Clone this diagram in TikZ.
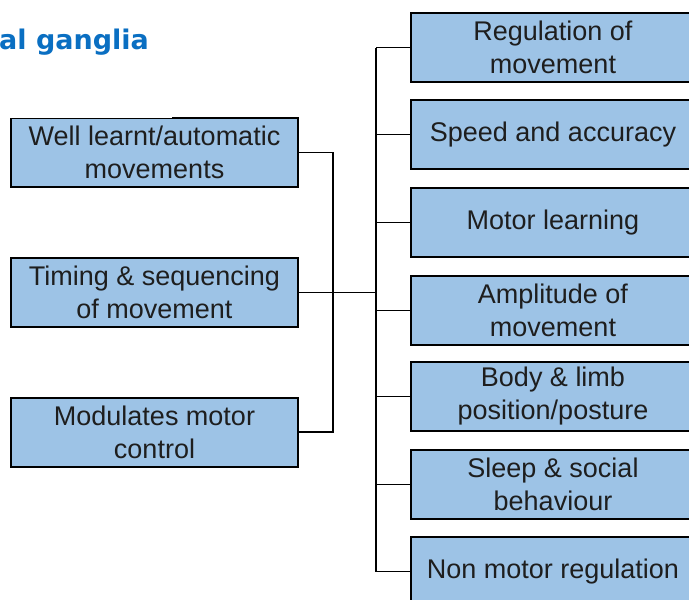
\documentclass[tikz,border=0pt]{standalone}
\usepackage{fontspec}
\setmainfont{Liberation Sans}
\newfontfamily\titlefont{DejaVu Sans}
\begin{document}
\begin{tikzpicture}[x=1pt,y=-1pt,
  box/.style={draw=black, line width=2pt, fill=boxblue, rectangle,
    inner sep=0pt, align=center, text=textgray,
    font=\fontsize{27}{33}\selectfont},
  leftbox/.style={box, minimum width=287pt, minimum height=69pt},
  rightbox/.style={box, minimum width=284pt, minimum height=69pt},
  link/.style={draw=black, line width=1.8pt}]
\definecolor{boxblue}{HTML}{9DC3E6}
\definecolor{textgray}{HTML}{1E1E1E}
\definecolor{titleblue}{HTML}{0A6FC2}
\useasboundingbox (0,0) rectangle (689,600);
\clip (0,0) rectangle (689,600);

% title
\node[anchor=west, inner sep=0pt, text=titleblue,
  font=\titlefont\bfseries\fontsize{27}{30}\selectfont] (title) at (-1,42) {al ganglia};

% left column
\node[leftbox] (l1) at (154.5,152.5) {Well learnt/automatic\\movements};
\node[leftbox] (l2) at (154.5,292.5) {Timing \& sequencing\\of movement};
\node[leftbox] (l3) at (154.5,432) {Modulates motor\\control};

% right column
\node[rightbox] (r1) at (553,47.5) {Regulation of\\movement};
\node[rightbox] (r2) at (553,134.5) {Speed and accuracy};
\node[rightbox] (r3) at (553,222.5) {Motor learning};
\node[rightbox] (r4) at (553,310.5) {Amplitude of\\movement};
\node[rightbox] (r5) at (553,396.5) {Body \& limb\\position/posture};
\node[rightbox] (r6) at (553,484.5) {Sleep \& social\\behaviour};
\node[rightbox] (r7) at (553,571.5) {Non motor regulation};

% white strip over the top of the first box
\fill[white] (0,100) rectangle (172,118.2);

% trunk positions
\coordinate (jL) at (333,0);
\coordinate (jR) at (376,0);

% left bracket
\draw[link] (l1.east) -- (l1.east -| jL) -- (l3.east -| jL) -- (l3.east);
\draw[link] (l2.east) -- (l2.east -| jR);

% right bracket
\draw[link] (r1.west -| jR) -- (r7.west -| jR);
\foreach \r in {r1,r2,r3,r4,r5,r6,r7}
  \draw[link] (\r.west -| jR) -- (\r.west);
\end{tikzpicture}
\end{document}
